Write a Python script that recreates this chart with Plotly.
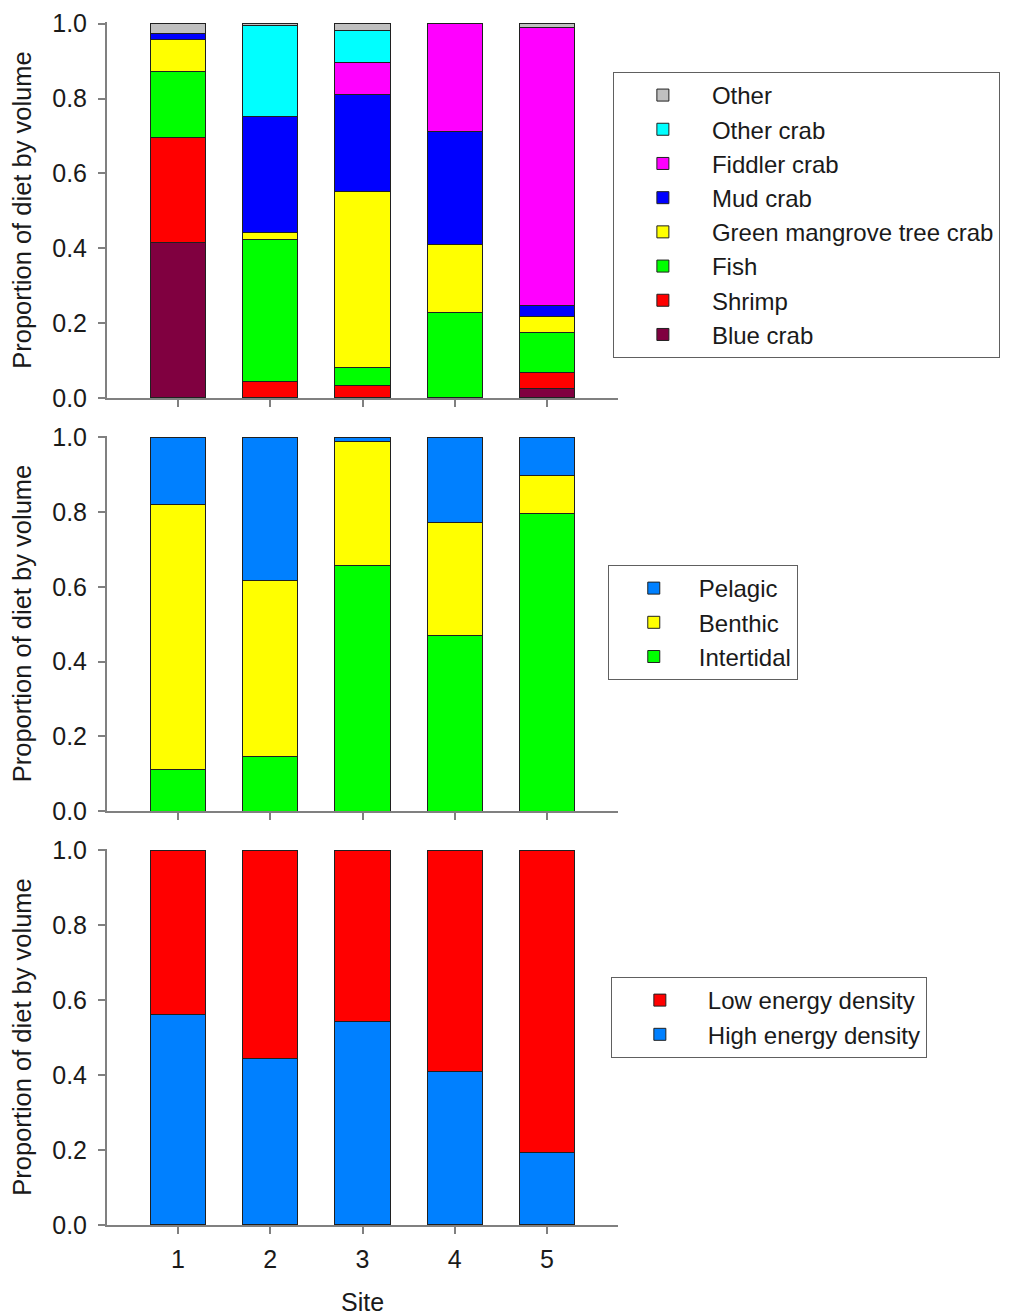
import plotly.graph_objects as go

sites = [1, 2, 3, 4, 5]
site_labels = ["1", "2", "3", "4", "5"]

# Panel 1: prey categories (bottom to top of stack)
blue_crab = [0.415, 0.0, 0.0, 0.0, 0.024]
shrimp = [0.280, 0.043, 0.033, 0.0, 0.045]
fish = [0.177, 0.381, 0.048, 0.229, 0.106]
green_mangrove = [0.086, 0.017, 0.470, 0.180, 0.042]
mud_crab = [0.016, 0.312, 0.260, 0.304, 0.030]
fiddler_crab = [0.0, 0.0, 0.086, 0.287, 0.744]
other_crab = [0.0, 0.241, 0.084, 0.0, 0.0]
other = [0.026, 0.006, 0.019, 0.0, 0.009]

# Panel 2: habitat
intertidal = [0.111, 0.147, 0.656, 0.469, 0.796]
benthic = [0.710, 0.470, 0.332, 0.303, 0.103]
pelagic = [0.179, 0.383, 0.012, 0.228, 0.101]

# Panel 3: energy density
high_energy = [0.561, 0.444, 0.544, 0.409, 0.193]
low_energy = [0.439, 0.556, 0.456, 0.591, 0.807]

yticks = [0.0, 0.2, 0.4, 0.6, 0.8, 1.0]
ytick_labels = ["0.0", "0.2", "0.4", "0.6", "0.8", "1.0"]

FONT = "Arial, Liberation Sans, sans-serif"
TXT = "#1a1a1a"
AX = "#808080"

fig = go.Figure()

panel1 = [
    ("Blue crab", blue_crab, "#800040"),
    ("Shrimp", shrimp, "#FF0000"),
    ("Fish", fish, "#00FF00"),
    ("Green mangrove tree crab", green_mangrove, "#FFFF00"),
    ("Mud crab", mud_crab, "#0000FF"),
    ("Fiddler crab", fiddler_crab, "#FF00FF"),
    ("Other crab", other_crab, "#00FFFF"),
    ("Other", other, "#C0C0C0"),
]
for name, vals, col in panel1:
    fig.add_trace(go.Bar(x=sites, y=vals, name=name, marker_color=col,
                         marker_line=dict(color="#202020", width=1), width=0.6,
                         xaxis="x", yaxis="y", legend="legend"))

panel2 = [
    ("Intertidal", intertidal, "#00FF00"),
    ("Benthic", benthic, "#FFFF00"),
    ("Pelagic", pelagic, "#0080FF"),
]
for name, vals, col in panel2:
    fig.add_trace(go.Bar(x=sites, y=vals, name=name, marker_color=col,
                         marker_line=dict(color="#202020", width=1), width=0.6,
                         xaxis="x2", yaxis="y2", legend="legend2"))

panel3 = [
    ("High energy density", high_energy, "#0080FF"),
    ("Low energy density", low_energy, "#FF0000"),
]
for name, vals, col in panel3:
    fig.add_trace(go.Bar(x=sites, y=vals, name=name, marker_color=col,
                         marker_line=dict(color="#202020", width=1), width=0.6,
                         xaxis="x3", yaxis="y3", legend="legend3"))

domains = {"": [0.6807, 0.990], "2": [0.3407, 0.6494], "3": [0.0, 0.3095]}

def xax(show_labels, anchor):
    d = dict(domain=[0, 1], range=[0.23, 5.77], tickvals=sites, ticktext=site_labels,
             showticklabels=show_labels, ticks="outside", ticklen=7, tickwidth=1.5,
             tickcolor=AX, showline=True, linecolor=AX, linewidth=2,
             showgrid=False, zeroline=False, anchor=anchor, ticklabelstandoff=4,
             tickfont=dict(family=FONT, size=25, color=TXT))
    return d

def yax(dom, anchor):
    return dict(domain=dom, range=[0, 1.004], tickvals=yticks, ticktext=ytick_labels,
                ticks="outside", ticklen=7, tickwidth=1.5, tickcolor=AX,
                showline=True, linecolor=AX, linewidth=2, showgrid=False, zeroline=False,
                anchor=anchor, ticklabelstandoff=6,
                tickfont=dict(family=FONT, size=25, color=TXT),
                title=dict(text="Proportion of diet by volume", standoff=14,
                           font=dict(family=FONT, size=25.5, color=TXT)))

leg_common = dict(bgcolor="white", bordercolor="#606060", borderwidth=1,
                  font=dict(family=FONT, size=24, color=TXT), traceorder="reversed",
                  xanchor="left", yanchor="top")

fig.update_layout(
    width=1011, height=1308,
    margin=dict(l=99, r=401, t=2, b=91, autoexpand=False),
    paper_bgcolor="white", plot_bgcolor="white",
    barmode="stack",
    xaxis=xax(False, "y"), yaxis=yax(domains[""], "x"),
    xaxis2=xax(False, "y2"), yaxis2=yax(domains["2"], "x2"),
    xaxis3=dict(xax(True, "y3"), title=dict(text="Site", standoff=24,
                                             font=dict(family=FONT, size=25, color=TXT))),
    yaxis3=yax(domains["3"], "x3"),
    legend=dict(leg_common, x=0.990, y=0.949, itemwidth=88),
    legend2=dict(leg_common, x=0.980, y=0.5432, itemwidth=80),
    legend3=dict(leg_common, x=0.986, y=0.2041, itemwidth=86),
    showlegend=True,
)

fig.write_html("out.html")
